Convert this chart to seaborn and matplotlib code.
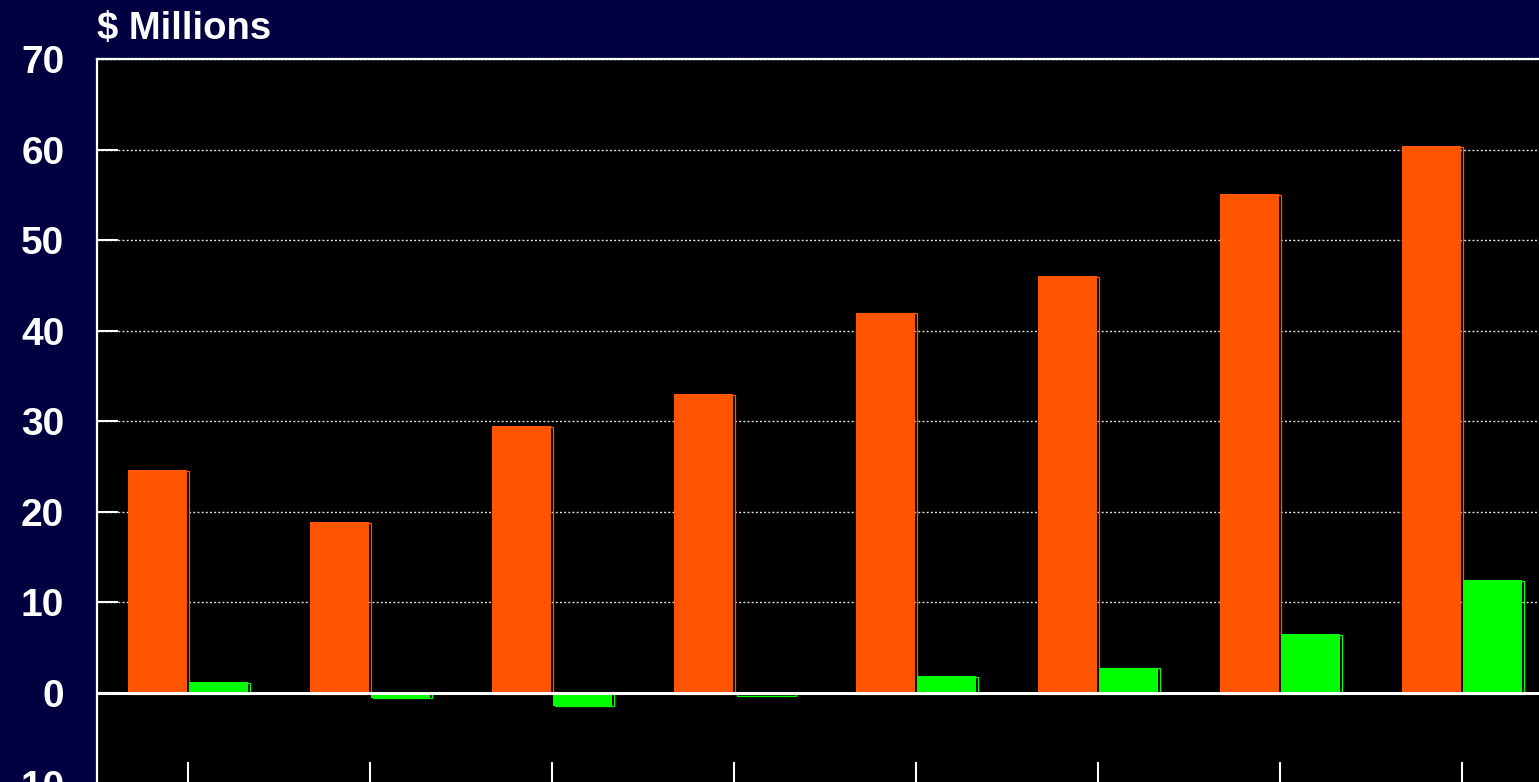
import pandas as pd
import matplotlib.pyplot as plt
import matplotlib.patheffects as pe
import seaborn as sns

# --- DATA ---
periods = ["P1", "P2", "P3", "P4", "P5", "P6", "P7", "P8"]
revenue = [24.6, 18.9, 29.5, 33.0, 42.0, 46.0, 55.1, 60.4]
net_income = [1.2, -0.5, -1.4, -0.2, 1.9, 2.8, 6.5, 12.5]
series_names = ["Revenue", "Net Income"]
y_ticks = [-10, 0, 10, 20, 30, 40, 50, 60, 70]

navy = "#000040"
orange = "#FF5500"
green = "#00FF00"


def main():
    df = pd.DataFrame({
        "period": periods * 2,
        "series": [series_names[0]] * len(periods) + [series_names[1]] * len(periods),
        "value": revenue + net_income,
    })

    sns.set_style("dark")
    plt.rcParams['font.family'] = ['Liberation Sans', 'DejaVu Sans']

    fig = plt.figure(figsize=(15.39, 7.82), dpi=100, facecolor=navy)
    # axes runs off the bottom and right edge like the original slide
    ax = fig.add_axes([97 / 1539, (782 - 792.6) / 782, 1456 / 1539, (792.6 - 59) / 782])
    ax.set_facecolor("black")

    sns.barplot(data=df, x="period", y="value", hue="series", order=periods,
                hue_order=series_names, palette=[orange, green], width=0.67,
                gap=0.03, saturation=1, legend=False, ax=ax, zorder=3)

    # thin offset outline behind each bar (the old 3D-ish look)
    for bar in ax.patches:
        c = bar.get_facecolor()
        bar.set_edgecolor("none")
        bar.set_path_effects([
            pe.PathPatchEffect(offset=(1.6, -0.6), facecolor="none", edgecolor=c, linewidth=0.9),
            pe.Normal(),
        ])

    ax.set_xlim(-0.5, len(periods) - 0.5)
    ax.set_ylim(-11, 70)
    ax.set_yticks(y_ticks)
    ax.set_yticklabels([str(t) for t in y_ticks])
    ax.set_xticks(range(len(periods)))
    ax.set_xticklabels([""] * len(periods))
    ax.set_xlabel("")
    ax.set_ylabel("")

    ax.yaxis.grid(True, color="#e8e8e8", linestyle=(0, (1.4, 1.6)), linewidth=1.0, zorder=1)
    ax.xaxis.grid(False)
    ax.axhline(0, color="white", linewidth=2.2, zorder=4)

    ax.tick_params(axis="y", left=True, direction="in", length=15, width=1.5, color="white",
                   labelcolor="white", labelsize=28, pad=23.5)
    ax.tick_params(axis="x", bottom=True, direction="in", length=22, width=1.5, color="white")
    for lbl in ax.get_yticklabels():
        lbl.set_fontweight("bold")

    for side in ["left", "top"]:
        ax.spines[side].set_visible(True)
        ax.spines[side].set_color("white")
        ax.spines[side].set_linewidth(1.6)
    for side in ["right", "bottom"]:
        ax.spines[side].set_visible(False)

    fig.text(97 / 1539, 1 - 39 / 782, "$ Millions", color="white", fontsize=27.5,
             fontweight="bold", ha="left", va="baseline")

    fig.savefig("out.png", dpi=100, facecolor=navy)


if __name__ == "__main__":
    main()
